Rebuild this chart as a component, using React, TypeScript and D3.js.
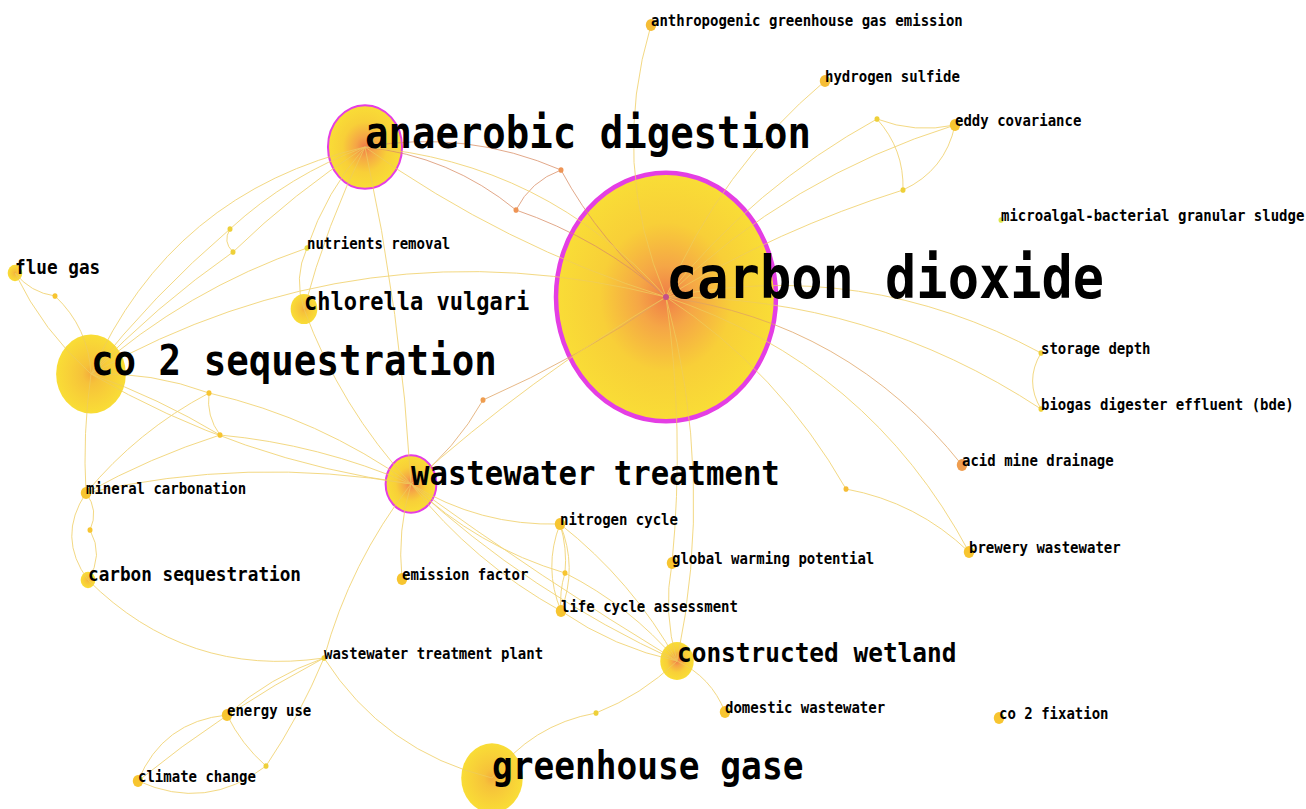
import React from 'react';
import * as d3 from 'd3';

const W = 1306;
const H = 809;

// node keys + keyword labels ("" = unlabeled bridging node)
const keys = ["CD","AD","CS","WT","GG","CW","CV","FG","CSQ","MC","NR","AGE","HS","EC","MBS","SD","BDE","AMD","BW","NC","GWP","EF","LCA","DW","CF","WTP","EU","CC",
  "d1","d2","d3","d4","d5","d6","d7","d8","d9","d10","d11","d12","d13","d14","d15"];
const keywords = ["carbon dioxide","anaerobic digestion","co 2 sequestration","wastewater treatment","greenhouse gase","constructed wetland","chlorella vulgari","flue gas","carbon sequestration","mineral carbonation","nutrients removal","anthropogenic greenhouse gas emission","hydrogen sulfide","eddy covariance","microalgal-bacterial granular sludge","storage depth","biogas digester effluent (bde)","acid mine drainage","brewery wastewater","nitrogen cycle","global warming potential","emission factor","life cycle assessment","domestic wastewater","co 2 fixation","wastewater treatment plant","energy use","climate change",
  "","","","","","","","","","","","","","",""];
// layout positions
const layoutX = [666,365,91,411,492,677,304,15,88,86,307,651,825,955,1001,1041,1041,962,969,560,672,402,561,725,999,324,227,138,
  561,516,877,903,230,233,55,209,220,483,90,565,846,596,266];
const layoutY = [297,147,374,484,778,661,309,273,580,493,248,25,81,125,220,353,409,465,552,524,563,579,611,712,718,658,715,781,
  170,210,119,190,229,252,296,393,435,400,530,573,489,713,766];
const freq = [300,39,35,20,28,10,7,3,3,2,1,2,2,2,1,1,1,2,2,2,2,2,2,2,2,1,2,2,
  1,1,1,1,1,1,1,1,1,1,1,1,1,1,1];
const years = [2016,2016,2017,2017,2018,2017,2019,2018,2018,2018,2020,2017,2017,2018,2021,2019,2019,2013,2018,2018,2018,2018,2018,2018,2018,2019,2018,2018,
  2012,2012,2019,2019,2019,2019,2018,2018,2018,2013,2018,2018,2017,2019,2019];
const centrality = [0.45,0.12,0,0.1,0,0.03,0,0,0,0,0,0,0,0,0,0,0,0,0,0,0,0,0,0,0,0,0,0,
  0,0,0,0,0,0,0,0,0,0,0,0,0,0,0];

// co-occurrence links: [source, target, curvature]
const links: [string, string, number][] = [
  ["AGE","CD",0.18],["HS","CD",0.12],["CD","d3",-0.1],["CD","EC",-0.12],["CD","d4",-0.06],
  ["d3","EC",0.15],["d3","d4",-0.2],["d4","EC",0.25],["CD","SD",-0.18],["CD","BDE",-0.15],
  ["SD","BDE",0.3],["CD","AMD",-0.2],["CD","BW",-0.2],["CD","d13",-0.12],["d13","BW",-0.15],
  ["CD","CW",-0.12],["CD","GWP",-0.06],["GWP","CW",0.12],
  ["AD","d1",-0.15],["d1","CD",0.1],["AD","d2",-0.15],["d2","CD",-0.1],["d1","d2",0.2],
  ["AD","CD",-0.2],["AD","CD",0.08],["CS","CD",-0.2],["WT","d10",0.1],["d10","CD",0.05],["WT","CD",-0.05],
  ["AD","d5",0.1],["d5","CS",0.05],["AD","d6",0.05],["d6","CS",0.05],["d5","d6",0.4],
  ["AD","CS",0.25],["AD","NR",0.1],["AD","WT",-0.04],["AD","CV",0.05],
  ["FG","CS",0.1],["FG","d7",0.2],["d7","CS",-0.2],["CS","d8",-0.1],["CS","d9",-0.05],
  ["d8","WT",-0.1],["d9","WT",-0.08],["d8","d9",0.2],["CS","WT",0.1],["CS","MC",0.05],
  ["MC","d8",-0.1],["MC","d9",-0.05],["MC","WT",-0.1],["MC","d11",-0.3],["d11","CSQ",-0.3],
  ["MC","CSQ",0.35],["CSQ","WTP",0.25],["NR","CV",0.2],["CV","WT",0.1],["CS","NR",-0.1],
  ["WT","NC",0.15],["WT","EF",0.1],["WT","LCA",0.1],["WT","CW",0.08],["WT","CW",0.02],
  ["WT","d12",0.12],["WT","WTP",0.1],["NC","LCA",0.2],["NC","LCA",-0.2],["NC","d12",-0.1],
  ["d12","LCA",0.1],["NC","CW",-0.1],["LCA","CW",0.1],["d12","CW",-0.1],
  ["WTP","EU",0.1],["WTP","CC",0.05],["WTP","d15",-0.05],["EU","d15",0.1],["EU","CC",0.3],
  ["CC","d15",0.3],["WTP","GG",0.2],["GG","d14",-0.2],["d14","CW",0.1],["CW","DW",-0.2],
];

const STRETCH = 1.13; // the map is drawn slightly taller than wide

export default function App() {
  const x = d3.scaleLinear().domain([0, 1306]).range([0, W]);
  const y = d3.scaleLinear().domain([0, 809]).range([0, H]);
  const rScale = d3.scaleSqrt().domain([1, 300]).range([2.5, 110]);
  const fontScale = d3.scaleSqrt().domain([2, 3, 39, 300]).range([14, 17.7, 39, 52]).clamp(true);
  const nodeColor = d3.scaleLinear<string>().domain([2012, 2014, 2018, 2021])
    .range(["#ee9455", "#f0a548", "#f7c530", "#dce64a"]);
  const linkColor = d3.scaleLinear<string>().domain([2012, 2015]).range(["#d98f66", "#efcd5e"]).clamp(true);

  const nodes = keys.map((k, i) => ({
    key: k, i, label: keywords[i], x: x(layoutX[i]), y: y(layoutY[i]),
    r: rScale(freq[i]), year: years[i], c: centrality[i],
  }));
  const byKey = new Map(nodes.map(n => [n.key, n]));

  const linkPaths = links.map(([a, b, bend], i) => {
    const s = byKey.get(a)!, t = byKey.get(b)!;
    const dx = t.x - s.x, dy = t.y - s.y;
    const mx = (s.x + t.x) / 2, my = (s.y + t.y) / 2;
    const cx = mx - dy * bend, cy = my + dx * bend;
    const p = d3.path();
    p.moveTo(s.x, s.y);
    p.quadraticCurveTo(cx, cy, t.x, t.y);
    return { d: p.toString(), color: linkColor(Math.min(s.year, t.year)), key: i };
  });

  const big = nodes.filter(n => n.r > 6);
  const small = nodes.filter(n => n.r <= 6);

  return (
    <svg width={W} height={H} style={{ position: 'absolute', left: 0, top: 0, background: '#fff' }}
      fontFamily="'DejaVu Sans Mono', monospace">
      <defs>
        {big.map(n => (
          <radialGradient key={n.key} id={`g-${n.key}`} cx="50%" cy="50%" r="50%">
            <stop offset="0%" stopColor={n.c > 0 ? '#ef7c48' : '#f4ac3c'} />
            <stop offset="25%" stopColor={n.c > 0 ? '#f5a646' : '#f6c23a'} />
            <stop offset="60%" stopColor="#f8cf38" />
            <stop offset="100%" stopColor="#f9dd36" />
          </radialGradient>
        ))}
      </defs>
      <rect width={W} height={H} fill="#fff" />
      <g>
        {big.map(n => (
          <ellipse key={n.key} cx={n.x} cy={n.y} rx={n.r} ry={n.r * STRETCH}
            fill={`url(#g-${n.key})`}
            stroke={n.c >= 0.1 ? '#e43ee4' : 'none'}
            strokeWidth={n.c >= 0.3 ? 4.5 : 2} />
        ))}
      </g>
      <g fill="none" strokeWidth={0.9} opacity={0.85}>
        {linkPaths.map(l => (
          <path key={l.key} d={l.d} stroke={l.color} />
        ))}
      </g>
      <g>
        {small.map(n => (
          <ellipse key={n.key} cx={n.x} cy={n.y} rx={n.r} ry={n.r * STRETCH} fill={nodeColor(n.year)} />
        ))}
        <circle cx={nodes[0].x} cy={nodes[0].y} r={3} fill="#c4508a" />
      </g>
      <g fill="#000" fontWeight="bold">
        {nodes.filter(n => n.label).map(n => (
          <g key={n.key} transform={`translate(${n.x},${n.y + 1}) scale(1,1.12)`}>
            <text fontSize={fontScale(freq[n.i])}>{n.label}</text>
          </g>
        ))}
      </g>
    </svg>
  );
}
